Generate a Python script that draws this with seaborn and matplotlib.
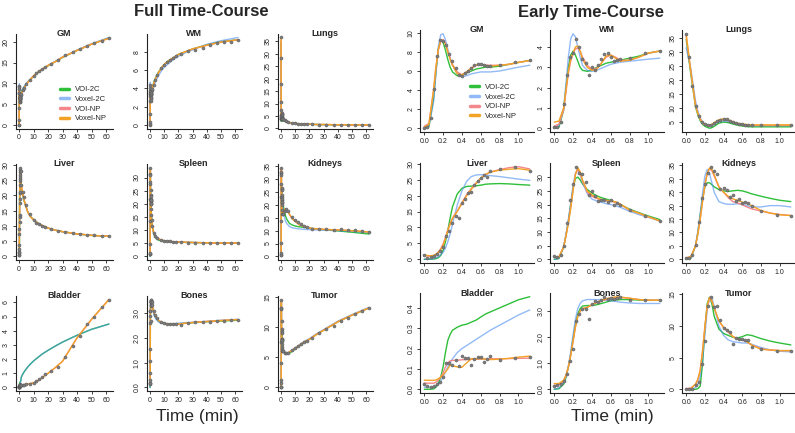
import numpy as np
import pandas as pd
import matplotlib
matplotlib.use("Agg")
import matplotlib.pyplot as plt
from matplotlib.lines import Line2D
import seaborn as sns

sns.set_theme(style="white")
plt.rcParams['font.family'] = ['Liberation Sans', 'DejaVu Sans']

# ---------------- time grids ----------------
T_EARLY = [0.0, 0.033, 0.067, 0.1, 0.133, 0.167, 0.2, 0.233, 0.267, 0.3, 0.333, 0.367, 0.4,
           0.433, 0.467, 0.5, 0.533, 0.567, 0.6, 0.633, 0.667, 0.7, 0.8, 0.967, 1.12]
T_FIT_E = [0.0, 0.05, 0.1, 0.125, 0.15, 0.175, 0.2, 0.225, 0.25, 0.275, 0.3, 0.35, 0.4,
           0.45, 0.5, 0.55, 0.6, 0.65, 0.7, 0.8, 0.9, 1.0, 1.12]
T_LATE = [1.5, 2.5, 3.5, 5, 7.5, 10, 12, 14, 16, 18, 22, 27, 32, 37, 42, 47, 52, 57, 62]
T_FIT_L = [1.5, 2, 3, 4, 6, 8, 10, 13, 16, 20, 25, 30, 40, 50, 62]

# ---------------- GM ----------------
gm_pts_e = [0.0, 0.1, 1.1, 4.1, 7.6, 9.3, 9.1, 8.7, 7.8, 7.0, 6.3, 5.6, 5.5, 5.8, 6.0, 6.3, 6.6, 6.7, 6.7, 6.6, 6.5, 6.5, 6.6, 6.9, 7.1]
gm_pts_l = [7.5, 8.3, 8.9, 9.8, 10.9, 11.8, 12.4, 12.9, 13.4, 13.9, 14.6, 15.6, 16.8, 17.5, 18.3, 19.0, 19.7, 20.2, 20.8]
gm_e_voi2c = [0.0, 0.2, 3.2, 6.0, 8.3, 9.2, 9.0, 8.2, 7.2, 6.4, 5.9, 5.5, 5.6, 5.8, 6.0, 6.2, 6.3, 6.4, 6.4, 6.5, 6.7, 6.9, 7.1]
gm_e_vox2c = [0.0, 0.2, 2.8, 5.8, 8.6, 9.8, 9.9, 9.3, 8.3, 7.4, 6.6, 5.7, 5.4, 5.5, 5.7, 5.8, 5.9, 5.9, 5.9, 6.0, 6.2, 6.4, 6.6]
gm_e_voinp = [0.2, 0.5, 4.0, 6.4, 8.2, 9.1, 9.3, 8.9, 8.1, 7.3, 6.7, 5.9, 5.6, 5.9, 6.3, 6.6, 6.7, 6.6, 6.6, 6.6, 6.7, 6.9, 7.1]
gm_e_voxnp = [0.1, 0.4, 4.1, 6.5, 8.3, 9.2, 9.2, 8.8, 8.0, 7.2, 6.6, 5.7, 5.6, 5.9, 6.3, 6.6, 6.7, 6.6, 6.5, 6.6, 6.7, 6.9, 7.1]
gm_l_voi2c = [7.8, 8.2, 8.9, 9.4, 10.3, 11.0, 11.7, 12.6, 13.3, 14.2, 15.2, 16.2, 17.9, 19.4, 20.9]
gm_l_vox2c = [8.0, 8.4, 9.0, 9.5, 10.4, 11.1, 11.8, 12.6, 13.4, 14.3, 15.3, 16.3, 18.0, 19.5, 21.0]
gm_l_np = [7.5, 7.9, 8.6, 9.2, 10.2, 11.0, 11.8, 12.7, 13.4, 14.3, 15.2, 16.3, 17.9, 19.4, 20.8]

# ---------------- WM ----------------
wm_pts_e = [0.05, 0.08, 0.3, 1.2, 2.6, 3.5, 3.7, 4.4, 4.0, 3.4, 3.2, 2.6, 3.0, 2.85, 3.1, 3.4, 3.65, 3.7, 3.5, 3.3, 3.35, 3.4, 3.45, 3.7, 3.8]
wm_pts_l = [3.9, 4.4, 4.9, 5.5, 6.2, 6.6, 6.9, 7.1, 7.3, 7.5, 7.8, 8.1, 8.2, 8.4, 8.7, 9.0, 9.1, 9.1, 9.3]
wm_e_voi2c = [0.0, 0.05, 0.9, 2.0, 3.0, 3.6, 3.8, 3.6, 3.3, 3.0, 2.85, 2.8, 2.85, 3.0, 3.1, 3.2, 3.25, 3.3, 3.35, 3.45, 3.55, 3.7, 3.8]
wm_e_vox2c = [0.0, 0.1, 1.0, 2.2, 3.5, 4.4, 4.65, 4.5, 4.0, 3.5, 3.1, 2.85, 2.8, 2.85, 2.95, 3.05, 3.15, 3.2, 3.25, 3.3, 3.35, 3.4, 3.45]
wm_e_voinp = [0.1, 0.2, 0.9, 1.8, 2.7, 3.3, 3.7, 3.9, 3.95, 3.8, 3.5, 3.1, 2.9, 2.95, 3.2, 3.5, 3.6, 3.5, 3.35, 3.35, 3.5, 3.7, 3.8]
wm_e_voxnp = [0.3, 0.35, 1.0, 1.9, 2.8, 3.4, 3.7, 4.0, 4.05, 3.8, 3.4, 3.0, 2.85, 2.9, 3.2, 3.55, 3.6, 3.45, 3.3, 3.35, 3.5, 3.7, 3.8]
wm_l_voi2c = [4.0, 4.3, 4.8, 5.2, 5.8, 6.2, 6.6, 7.0, 7.3, 7.7, 8.0, 8.3, 8.75, 9.1, 9.3]
wm_l_vox2c = [3.6, 3.9, 4.4, 4.8, 5.4, 5.9, 6.3, 6.7, 7.1, 7.5, 7.9, 8.2, 8.8, 9.2, 9.55]
wm_l_np = [3.9, 4.2, 4.7, 5.1, 5.7, 6.2, 6.6, 7.0, 7.3, 7.7, 8.0, 8.3, 8.7, 9.05, 9.3]

# ---------------- Lungs ----------------
lungs_pts_e = [36.5, 28.3, 17.8, 10.8, 7.3, 5.0, 4.2, 4.0, 3.8, 4.5, 5.3, 5.8, 6.2, 6.0, 5.5, 5.0, 4.6, 4.3, 4.2, 4.0, 4.0, 4.0, 4.0, 4.0, 4.0]
lungs_pts_l = [3.8, 3.3, 2.9, 2.6, 2.3, 2.1, 2.0, 1.9, 1.8, 1.8, 1.7, 1.6, 1.6, 1.5, 1.5, 1.5, 1.4, 1.4, 1.4]
lungs_e_voi2c = [34.5, 22.0, 10.5, 7.5, 5.5, 4.2, 3.5, 3.1, 2.8, 3.0, 3.5, 4.6, 5.0, 4.8, 4.3, 3.9, 3.6, 3.4, 3.3, 3.3, 3.3, 3.3, 3.3]
lungs_e_vox2c = [31.5, 24.0, 12.5, 9.0, 6.5, 5.0, 4.2, 3.9, 3.7, 3.8, 4.2, 5.0, 5.4, 5.2, 4.7, 4.3, 4.0, 3.8, 3.7, 3.7, 3.7, 3.7, 3.7]
lungs_e_voinp = [35.5, 23.0, 11.0, 8.2, 6.0, 4.6, 4.0, 3.7, 3.6, 3.9, 4.5, 5.5, 5.9, 5.6, 5.0, 4.5, 4.1, 3.9, 3.8, 3.8, 3.8, 3.8, 3.8]
lungs_e_voxnp = [36.5, 23.0, 10.8, 8.1, 6.1, 4.8, 4.2, 4.0, 3.9, 4.2, 4.8, 5.8, 6.2, 5.8, 5.1, 4.6, 4.3, 4.1, 4.0, 4.0, 4.0, 4.0, 4.0]
lungs_l_voi2c = [3.1, 3.0, 2.8, 2.6, 2.3, 2.1, 2.0, 1.9, 1.8, 1.7, 1.6, 1.55, 1.5, 1.45, 1.4]
lungs_l_vox2c = [3.5, 3.3, 3.0, 2.7, 2.4, 2.2, 2.0, 1.9, 1.8, 1.7, 1.6, 1.55, 1.5, 1.45, 1.4]
lungs_l_np = [3.8, 3.5, 3.1, 2.8, 2.4, 2.2, 2.0, 1.9, 1.8, 1.7, 1.6, 1.6, 1.5, 1.45, 1.4]

# ---------------- Liver ----------------
liver_pts_e = [1.3, 0.5, 0.6, 1.0, 1.6, 2.5, 3.8, 7.3, 8.9, 11.3, 13.6, 12.9, 17.6, 18.9, 20.9, 21.0, 23.4, 24.6, 25.5, 26.5, 26.0, 27.6, 28.4, 28.9, 27.9]
liver_pts_l = [23.5, 21.0, 19.5, 17.0, 13.8, 12.0, 11.1, 10.6, 10.1, 9.7, 8.9, 8.4, 8.0, 7.7, 7.4, 7.1, 6.9, 6.8, 6.6]
liver_e_voi2c = [0.0, 0.0, 0.1, 0.2, 0.5, 1.2, 2.8, 5.5, 9.0, 13.0, 16.5, 20.5, 22.3, 22.9, 23.0, 23.1, 23.3, 23.6, 23.7, 23.8, 23.7, 23.5, 23.3]
liver_e_vox2c = [0.0, 0.0, 0.2, 0.4, 0.8, 1.4, 2.2, 3.5, 5.5, 8.0, 11.0, 17.0, 21.5, 24.5, 26.0, 26.5, 26.6, 26.5, 26.3, 26.0, 25.6, 25.2, 24.8]
liver_e_voinp = [1.2, 1.0, 1.2, 1.6, 2.3, 3.3, 4.8, 6.9, 9.2, 11.3, 13.0, 15.2, 17.8, 20.3, 22.3, 24.0, 25.5, 26.6, 27.4, 28.2, 28.8, 29.1, 28.4]
liver_e_voxnp = [1.4, 1.1, 1.2, 1.6, 2.2, 3.0, 4.3, 6.5, 9.0, 11.0, 12.8, 15.0, 17.5, 20.0, 22.0, 23.8, 25.5, 26.7, 27.4, 28.0, 28.3, 28.5, 28.0]
liver_l_voi2c = [21.5, 21.0, 19.0, 17.3, 14.6, 13.0, 12.0, 10.9, 10.1, 9.3, 8.6, 8.1, 7.4, 6.9, 6.6]
liver_l_vox2c = [22.5, 21.5, 19.3, 17.5, 14.6, 13.0, 12.0, 10.9, 10.1, 9.3, 8.6, 8.1, 7.4, 6.9, 6.6]
liver_l_np = [23.5, 22.0, 19.5, 17.5, 14.5, 12.9, 12.0, 10.9, 10.1, 9.3, 8.6, 8.1, 7.4, 6.9, 6.6]

# ---------------- Spleen ----------------
spleen_pts_e = [1.1, 0.8, 1.4, 4.7, 13.4, 21.8, 27.5, 33.8, 31.4, 31.0, 28.2, 23.3, 25.1, 23.0, 21.2, 21.8, 21.5, 21.0, 21.5, 20.0, 20.5, 20.0, 18.0, 15.7, 14.0]
spleen_pts_l = [11.5, 9.0, 7.8, 7.0, 6.3, 6.0, 5.8, 5.7, 5.6, 5.5, 5.4, 5.3, 5.3, 5.2, 5.2, 5.2, 5.1, 5.1, 5.1]
spleen_e_voi2c = [0.0, 0.3, 4.5, 9.0, 14.0, 20.0, 26.0, 29.5, 30.0, 29.0, 27.5, 25.5, 24.2, 23.2, 22.5, 22.0, 21.5, 20.8, 20.0, 18.3, 17.0, 15.8, 14.5]
spleen_e_vox2c = [0.0, 0.3, 4.5, 9.0, 14.5, 20.5, 27.0, 31.5, 32.5, 31.0, 28.0, 24.0, 22.0, 21.3, 20.8, 20.3, 20.0, 19.5, 19.0, 17.5, 16.3, 15.3, 14.0]
spleen_e_voinp = [0.8, 0.9, 4.5, 8.8, 13.5, 19.0, 25.5, 31.0, 32.8, 31.5, 28.5, 24.5, 23.0, 22.2, 21.7, 21.4, 21.2, 20.8, 20.0, 18.0, 16.8, 15.5, 14.0]
spleen_e_voxnp = [1.0, 0.8, 4.5, 8.5, 13.0, 18.5, 25.0, 31.0, 33.5, 32.0, 29.0, 25.0, 23.5, 22.5, 21.8, 21.5, 21.3, 21.0, 20.2, 18.0, 16.8, 15.5, 14.0]
spleen_l_voi2c = [12.0, 10.0, 8.0, 7.0, 6.2, 5.9, 5.7, 5.6, 5.5, 5.4, 5.35, 5.3, 5.2, 5.15, 5.1]
spleen_l_vox2c = [11.8, 10.0, 8.3, 7.3, 6.5, 6.1, 5.9, 5.7, 5.6, 5.5, 5.4, 5.3, 5.2, 5.15, 5.1]
spleen_l_np = [12.0, 10.2, 8.5, 7.6, 6.7, 6.2, 6.0, 5.8, 5.6, 5.5, 5.4, 5.3, 5.2, 5.1, 5.1]

# ---------------- Kidneys ----------------
kidneys_pts_e = [0.5, 0.5, 1.5, 5.2, 13.8, 23.0, 28.2, 32.3, 34.5, 32.9, 31.7, 26.1, 26.5, 25.8, 23.1, 23.9, 21.8, 22.4, 20.8, 21.2, 21.1, 20.0, 18.1, 16.6, 16.3]
kidneys_pts_l = [16.5, 17.5, 18.5, 17.5, 15.3, 14.0, 13.2, 12.5, 12.0, 11.5, 10.8, 10.7, 10.6, 10.4, 10.5, 10.3, 10.1, 9.9, 9.5]
kidneys_e_voi2c = [0.0, 0.5, 5.0, 10.0, 16.5, 23.0, 27.0, 28.5, 28.5, 27.8, 27.0, 26.0, 25.5, 25.3, 25.5, 25.7, 25.5, 25.0, 24.4, 23.5, 22.7, 22.0, 21.5]
kidneys_e_vox2c = [0.0, 0.5, 5.0, 10.5, 17.0, 24.5, 31.0, 33.5, 32.0, 28.5, 25.0, 21.5, 20.8, 20.5, 20.5, 20.7, 20.5, 20.0, 19.5, 19.5, 20.0, 20.0, 19.5]
kidneys_e_voinp = [0.5, 1.0, 5.0, 9.5, 15.0, 21.5, 27.5, 32.0, 33.8, 33.0, 31.0, 27.0, 25.0, 23.0, 21.5, 21.0, 20.3, 19.5, 18.8, 18.0, 17.2, 16.7, 16.3]
kidneys_e_voxnp = [0.5, 1.0, 5.0, 9.5, 15.0, 21.5, 27.5, 32.0, 34.0, 33.5, 31.5, 27.0, 25.0, 23.5, 22.5, 22.0, 21.3, 20.8, 20.0, 18.2, 17.2, 16.6, 16.3]
kidneys_l_voi2c = [20.0, 18.5, 16.0, 14.5, 12.8, 12.2, 11.8, 11.5, 11.3, 11.0, 10.7, 10.4, 9.9, 9.4, 8.7]
kidneys_l_vox2c = [18.5, 16.5, 14.0, 12.8, 11.6, 11.1, 10.9, 10.7, 10.5, 10.4, 10.3, 10.2, 10.0, 9.7, 9.3]
kidneys_l_np = [16.5, 17.2, 18.5, 18.3, 16.3, 14.6, 13.6, 12.3, 11.7, 11.0, 10.7, 10.5, 10.3, 10.0, 9.5]

# ---------------- Bladder ----------------
bladder_pts_e = [0.026, 0.016, 0.013, 0.016, 0.026, 0.037, 0.062, 0.127, 0.130, 0.119, 0.146, 0.114, 0.163, 0.156, 0.156, 0.119, 0.151, 0.159, 0.159, 0.135, 0.151, 0.163, 0.143, 0.156, 0.159]
bladder_pts_l = [0.17, 0.19, 0.20, 0.22, 0.26, 0.33, 0.47, 0.59, 0.75, 0.94, 1.18, 1.46, 2.12, 2.94, 3.65, 4.47, 4.94, 5.65, 6.16]
bladder_e_voi2c = [0.0, 0.0, 0.002, 0.01, 0.03, 0.06, 0.11, 0.18, 0.24, 0.27, 0.29, 0.305, 0.315, 0.32, 0.33, 0.34, 0.355, 0.37, 0.38, 0.4, 0.42, 0.44, 0.455]
bladder_e_vox2c = [0.01, 0.01, 0.012, 0.016, 0.025, 0.04, 0.06, 0.085, 0.11, 0.13, 0.15, 0.18, 0.20, 0.215, 0.23, 0.245, 0.26, 0.275, 0.29, 0.315, 0.34, 0.365, 0.39]
bladder_e_voinp = [0.03, 0.03, 0.03, 0.035, 0.045, 0.06, 0.08, 0.11, 0.13, 0.14, 0.142, 0.143, 0.145, 0.146, 0.147, 0.148, 0.149, 0.149, 0.15, 0.15, 0.151, 0.152, 0.153]
bladder_e_voxnp = [0.045, 0.044, 0.044, 0.046, 0.052, 0.060, 0.070, 0.085, 0.10, 0.12, 0.115, 0.110, 0.108, 0.13, 0.15, 0.150, 0.150, 0.148, 0.146, 0.148, 0.152, 0.158, 0.163]
bladder_l_voi2c = [0.72, 0.84, 1.02, 1.18, 1.45, 1.67, 1.87, 2.12, 2.36, 2.62, 2.92, 3.2, 3.68, 4.1, 4.47]
bladder_l_vox2c = [0.72, 0.84, 1.02, 1.18, 1.45, 1.67, 1.87, 2.12, 2.36, 2.62, 2.92, 3.2, 3.68, 4.1, 4.47]
bladder_l_np = [0.17, 0.18, 0.20, 0.21, 0.24, 0.28, 0.33, 0.47, 0.70, 1.0, 1.4, 1.85, 3.5, 4.8, 6.2]

# ---------------- Bones ----------------
bones_pts_e = [0.13, 0.17, 0.20, 0.32, 0.60, 1.09, 1.56, 2.62, 2.90, 3.09, 3.09, 2.71, 3.28, 3.38, 3.34, 3.44, 3.53, 3.49, 3.50, 3.47, 3.50, 3.56, 3.44, 3.44, 3.44]
bones_pts_l = [3.35, 3.1, 2.95, 2.8, 2.67, 2.62, 2.58, 2.56, 2.55, 2.55, 2.53, 2.62, 2.63, 2.63, 2.67, 2.69, 2.70, 2.73, 2.75]
bones_e_voi2c = [0.0, 0.02, 0.2, 0.45, 0.85, 1.35, 1.95, 2.5, 2.9, 3.1, 3.2, 3.22, 3.22, 3.25, 3.3, 3.35, 3.4, 3.43, 3.45, 3.45, 3.43, 3.42, 3.42]
bones_e_vox2c = [0.0, 0.05, 0.25, 0.5, 0.9, 1.45, 2.1, 2.7, 3.1, 3.3, 3.4, 3.45, 3.45, 3.45, 3.45, 3.42, 3.4, 3.38, 3.35, 3.32, 3.3, 3.3, 3.3]
bones_e_voinp = [0.15, 0.17, 0.32, 0.52, 0.85, 1.3, 1.85, 2.4, 2.8, 3.0, 3.1, 3.15, 3.25, 3.33, 3.4, 3.45, 3.5, 3.52, 3.53, 3.5, 3.45, 3.43, 3.42]
bones_e_voxnp = [0.22, 0.22, 0.35, 0.55, 0.85, 1.3, 1.85, 2.4, 2.8, 3.0, 3.1, 3.15, 3.25, 3.35, 3.42, 3.48, 3.52, 3.55, 3.55, 3.5, 3.45, 3.43, 3.42]
bones_l_voi2c = [3.3, 3.15, 2.95, 2.83, 2.68, 2.61, 2.58, 2.57, 2.57, 2.58, 2.6, 2.62, 2.66, 2.69, 2.72]
bones_l_vox2c = [3.25, 3.1, 2.9, 2.78, 2.65, 2.6, 2.58, 2.58, 2.58, 2.6, 2.62, 2.64, 2.68, 2.72, 2.76]
bones_l_np = [3.35, 3.2, 3.0, 2.88, 2.72, 2.64, 2.6, 2.57, 2.55, 2.56, 2.6, 2.63, 2.67, 2.71, 2.75]

# ---------------- Tumor ----------------
tumor_pts_e = [0.0, 0.0, 0.0, 0.7, 1.2, 4.0, 7.6, 13.2, 14.6, 13.0, 13.2, 11.0, 9.7, 9.4, 9.1, 7.2, 8.1, 8.0, 7.9, 7.7, 7.8, 6.7, 6.4, 6.0, 6.1]
tumor_pts_l = [6.0, 5.8, 5.7, 5.8, 6.2, 6.5, 6.9, 7.2, 7.5, 7.7, 8.2, 9.0, 9.7, 10.2, 11.0, 11.6, 12.2, 12.7, 13.2]
tumor_e_voi2c = [0.0, 0.0, 0.0, 0.1, 0.5, 4.0, 9.5, 13.5, 14.5, 13.5, 11.5, 9.5, 8.8, 8.5, 8.2, 8.1, 8.3, 8.6, 8.5, 8.0, 7.6, 7.3, 7.0]
tumor_e_vox2c = [0.0, 0.0, 0.3, 0.8, 2.0, 4.5, 8.5, 12.5, 14.5, 14.5, 13.0, 10.0, 8.5, 7.8, 7.5, 7.4, 7.3, 7.3, 7.1, 6.6, 6.2, 6.0, 5.9]
tumor_e_voinp = [0.1, 0.2, 0.8, 1.6, 3.0, 6.0, 9.8, 13.0, 14.3, 13.9, 12.8, 10.8, 9.7, 9.0, 8.3, 8.0, 7.8, 7.5, 7.0, 6.4, 6.2, 6.1, 6.1]
tumor_e_voxnp = [0.0, 0.1, 0.8, 1.5, 3.0, 6.0, 9.8, 13.2, 14.5, 14.0, 12.8, 10.8, 9.8, 9.2, 8.3, 7.9, 7.8, 7.5, 7.0, 6.3, 6.2, 6.1, 6.1]
tumor_l_voi2c = [6.3, 6.0, 5.6, 5.5, 5.7, 6.0, 6.4, 6.9, 7.4, 8.0, 8.8, 9.5, 10.9, 12.0, 13.2]
tumor_l_vox2c = [6.1, 5.9, 5.7, 5.7, 5.9, 6.2, 6.6, 7.1, 7.6, 8.1, 8.9, 9.6, 11.0, 12.1, 13.3]
tumor_l_np = [6.0, 5.9, 5.7, 5.7, 5.9, 6.2, 6.5, 7.0, 7.5, 8.0, 8.8, 9.5, 10.9, 12.0, 13.2]

# ---------------- categories / ticks ----------------
ORGANS = ["GM", "WM", "Lungs", "Liver", "Spleen", "Kidneys", "Bladder", "Bones", "Tumor"]
METHODS = ["VOI-2C", "Voxel-2C", "VOI-NP", "Voxel-NP"]
XTICKS_FULL = [0, 10, 20, 30, 40, 50, 60]
XTICKS_EARLY = [0.0, 0.2, 0.4, 0.6, 0.8, 1.0]
YTICKS_FULL = {
    "GM": [0, 5, 10, 15, 20], "WM": [0, 2, 4, 6, 8], "Lungs": [0, 5, 10, 15, 20, 25, 30, 35],
    "Liver": [0, 5, 10, 15, 20, 25, 30], "Spleen": [0, 5, 10, 15, 20, 25, 30],
    "Kidneys": [0, 5, 10, 15, 20, 25, 30, 35], "Bladder": [0, 1, 2, 3, 4, 5, 6],
    "Bones": [0.0, 1.0, 2.0, 3.0], "Tumor": [0, 5, 10, 15]}
YTICKS_EARLY = {
    "GM": [0, 2, 4, 6, 8, 10], "WM": [0, 1, 2, 3, 4], "Lungs": [5, 10, 15, 20, 25, 30, 35],
    "Liver": [0, 5, 10, 15, 20, 25, 30], "Spleen": [0, 5, 10, 15, 20, 25, 30],
    "Kidneys": [0, 5, 10, 15, 20, 25, 30, 35], "Bladder": [0.0, 0.1, 0.2, 0.3, 0.4],
    "Bones": [0.0, 1.0, 2.0, 3.0], "Tumor": [0, 5, 10, 15]}
YFMT_FULL = {"Bones": "{:.1f}"}
YFMT_EARLY = {"Bladder": "{:.1f}", "Bones": "{:.1f}"}

PALETTE = {"VOI-2C": "#2FBF3A", "Voxel-2C": "#4A8CF0", "VOI-NP": "#F4878A", "Voxel-NP": "#F2A227"}
ALPHA = {"VOI-2C": 1.0, "Voxel-2C": 0.6, "VOI-NP": 1.0, "Voxel-NP": 1.0}
PT_COLOR = "#7d7d7d"

# ---------------- build long tables ----------------
g = globals()
curve_rows, point_rows = [], []
for org in ORGANS:
    k = org.lower()
    e = {"VOI-2C": g[k + "_e_voi2c"], "Voxel-2C": g[k + "_e_vox2c"],
         "VOI-NP": g[k + "_e_voinp"], "Voxel-NP": g[k + "_e_voxnp"]}
    l = {"VOI-2C": g[k + "_l_voi2c"], "Voxel-2C": g[k + "_l_vox2c"],
         "VOI-NP": g[k + "_l_np"], "Voxel-NP": g[k + "_l_np"]}
    for m in METHODS:
        for t, v in zip(T_FIT_E, e[m]):
            curve_rows.append((org, "early", m, t, v))
            curve_rows.append((org, "full", m, t, v))
        for t, v in zip(T_FIT_L, l[m]):
            curve_rows.append((org, "full", m, t, v))
    for t, v in zip(T_EARLY, g[k + "_pts_e"]):
        point_rows.append((org, "early", t, v))
        point_rows.append((org, "full", t, v))
    for t, v in zip(T_LATE, g[k + "_pts_l"]):
        point_rows.append((org, "full", t, v))
curves = pd.DataFrame(curve_rows, columns=["organ", "view", "method", "t", "v"])
points = pd.DataFrame(point_rows, columns=["organ", "view", "t", "v"])

# ---------------- layout (pixel boxes: left, top, right, bottom) ----------------
W, H = 795, 433
COLS_FULL = [(15.5, 112.5), (146.5, 241.5), (277.5, 372.5)]
ROWS_FULL = [(34, 128.5), (164, 260), (296, 391)]
COLS_EARLY = [(420, 534), (550, 664), (682, 795)]
ROWS_EARLY = [(30, 132), (163, 263), (293, 393)]

fig = plt.figure(figsize=(W / 100, H / 100), dpi=100)


def box(cols, rows, i):
    (x0, x1), (y0, y1) = cols[i % 3], rows[i // 3]
    return [x0 / W, 1 - y1 / H, (x1 - x0) / W, (y1 - y0) / H]


def draw(ax, org, view):
    cur = curves[(curves.organ == org) & (curves.view == view)]
    pts = points[(points.organ == org) & (points.view == view)]
    for m in METHODS:
        sns.lineplot(data=cur[cur.method == m], x="t", y="v", color=PALETTE[m], alpha=ALPHA[m],
                     estimator=None, sort=True, legend=False, lw=1.0, ax=ax)
    sns.scatterplot(data=pts, x="t", y="v", color=PT_COLOR, s=5, linewidth=0.3,
                    edgecolor="#555555", ax=ax, zorder=5, legend=False)
    allx = pd.concat([cur.t, pts.t]); ally = pd.concat([cur.v, pts.v])
    dx = (allx.max() - allx.min()) * 0.04; dy = (ally.max() - ally.min()) * 0.04
    ax.set_xlim(allx.min() - dx, allx.max() + dx)
    ax.set_ylim(ally.min() - dy, ally.max() + dy)
    ax.set_xlabel(""); ax.set_ylabel("")
    for s in ["top", "right"]:
        ax.spines[s].set_visible(False)
    for s in ["left", "bottom"]:
        ax.spines[s].set_linewidth(0.8); ax.spines[s].set_color("#222222")
    if view == "full":
        ax.set_xticks(XTICKS_FULL); ax.set_xticklabels([str(v) for v in XTICKS_FULL])
        yt = YTICKS_FULL[org]; fmt = YFMT_FULL.get(org, "{:g}")
    else:
        ax.set_xticks(XTICKS_EARLY); ax.set_xticklabels([f"{v:.1f}" for v in XTICKS_EARLY])
        yt = YTICKS_EARLY[org]; fmt = YFMT_EARLY.get(org, "{:g}")
    ax.set_yticks(yt); ax.set_yticklabels([fmt.format(v) for v in yt])
    ax.tick_params(axis="both", direction="out", length=2.5, width=0.6, labelsize=5,
                   pad=1.5, colors="#222222", left=True, bottom=True)
    ax.tick_params(axis="y", labelrotation=90)
    for lb in ax.get_yticklabels():
        lb.set_va("center")
    ax.text(0.5, 1.0, org, transform=ax.transAxes, ha="center", va="center",
            fontsize=6.5, fontweight="bold")
    ax.grid(False)
    ax.set_facecolor("white")


for i, org in enumerate(ORGANS):
    axf = fig.add_axes(box(COLS_FULL, ROWS_FULL, i))
    draw(axf, org, "full")
    axe = fig.add_axes(box(COLS_EARLY, ROWS_EARLY, i))
    draw(axe, org, "early")
    if org == "GM":
        for ax, anchor in [(axf, (0.46, 0.45)), (axe, (0.44, 0.475))]:
            handles = [Line2D([0], [0], color=PALETTE[m], alpha=ALPHA[m], lw=2.5) for m in METHODS]
            ax.legend(handles, METHODS, loc="upper left", bbox_to_anchor=anchor, frameon=False,
                      fontsize=5.5, handlelength=1.2, handletextpad=0.8, labelspacing=0.3,
                      borderaxespad=0, borderpad=0)

fig.text(201 / W, 1 - 12 / H, "Full Time-Course", ha="center", va="center", fontsize=12, fontweight="bold")
fig.text(591 / W, 1 - 12 / H, "Early Time-Course", ha="center", va="center", fontsize=12, fontweight="bold")
fig.text(197 / W, 1 - 416 / H, "Time (min)", ha="center", va="center", fontsize=12.5)
fig.text(612 / W, 1 - 416 / H, "Time (min)", ha="center", va="center", fontsize=12.5)

fig.savefig("out.png", dpi=100, facecolor="white")
